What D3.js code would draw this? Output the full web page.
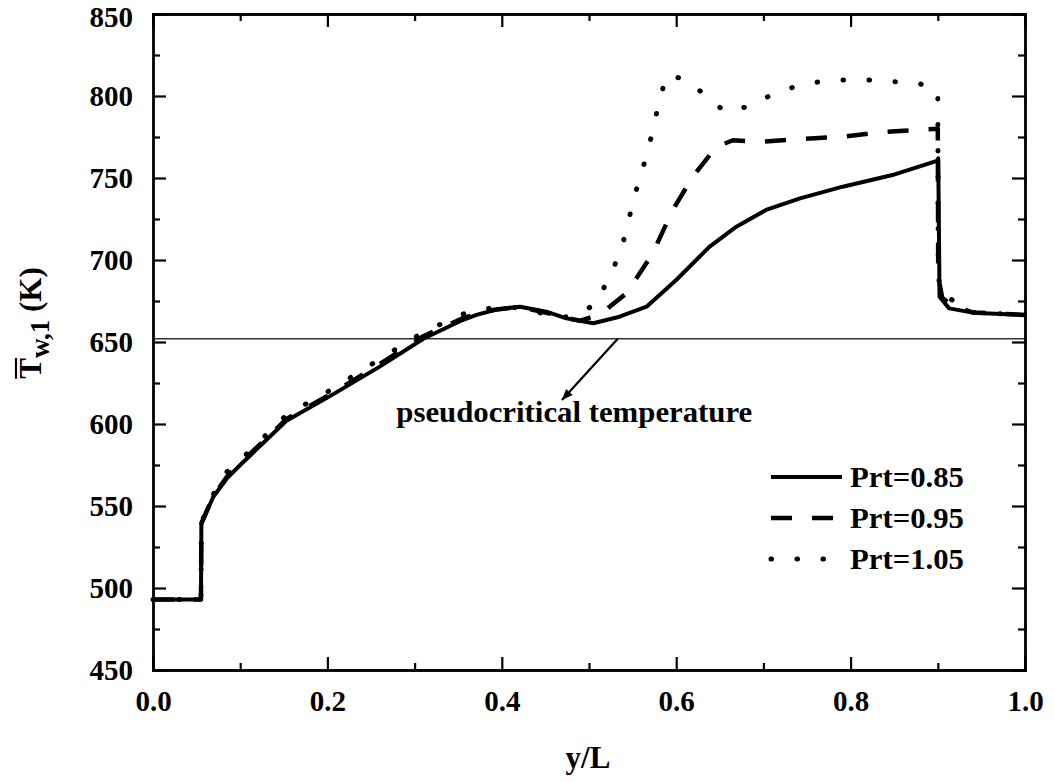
<!DOCTYPE html>
<html><head><meta charset="utf-8">
<script src="https://cdn.jsdelivr.net/npm/d3@7"></script>
<style>
html,body{margin:0;padding:0;background:#fff;}
svg{display:block;}
text{font-family:"Liberation Serif","Times New Roman",serif;font-weight:bold;fill:#000;}
</style></head>
<body>
<svg id="chart" width="1054" height="782"></svg>
<script>
// ---- data ----
const xTicks = [0.0, 0.2, 0.4, 0.6, 0.8, 1.0];
const yTicks = [450, 500, 550, 600, 650, 700, 750, 800, 850];
const seriesNames = ["Prt=0.85", "Prt=0.95", "Prt=1.05"];

const x085 = [0, 0.055, 0.0555, 0.069, 0.085, 0.1, 0.153, 0.203, 0.26, 0.31, 0.355, 0.371, 0.395, 0.421, 0.451, 0.474, 0.505, 0.535, 0.566, 0.60, 0.638, 0.669, 0.703, 0.742, 0.791, 0.848, 0.899, 0.9005, 0.902, 0.913, 0.94, 1.0];
const t085 = [493, 493, 539, 555.5, 567, 575, 602, 617, 635, 652, 663.4, 666.5, 670, 671.5, 668.5, 664.4, 661.4, 665.4, 671.5, 687.8, 708, 720.3, 730.5, 737.6, 744.7, 751.8, 760.5, 762, 677.6, 670.5, 667.9, 666.5];

const x095 = [0, 0.055, 0.0555, 0.069, 0.085, 0.1, 0.153, 0.203, 0.26, 0.31, 0.355, 0.39, 0.42, 0.45, 0.475, 0.49, 0.505, 0.52, 0.543, 0.573, 0.596, 0.619, 0.646, 0.665, 0.696, 0.745, 0.791, 0.841, 0.887, 0.9, 0.9005, 0.905, 0.917, 0.94, 1.0];
const t095 = [493, 493, 539.5, 556, 568, 576, 603, 618, 636.5, 653.5, 664.5, 669.5, 671.5, 668, 664.5, 663, 665.5, 670, 679.7, 704, 730.5, 750.8, 769, 773, 772, 773.8, 775.2, 778.2, 779.7, 780, 690, 677, 672, 668, 666.5];

const x105 = [0, 0.055, 0.0555, 0.069, 0.085, 0.1, 0.153, 0.203, 0.26, 0.31, 0.355, 0.39, 0.42, 0.45, 0.47, 0.486, 0.509, 0.522, 0.535, 0.543, 0.550, 0.558, 0.567, 0.574, 0.581, 0.589, 0.610, 0.631, 0.656, 0.682, 0.709, 0.736, 0.764, 0.793, 0.822, 0.850, 0.877, 0.9, 0.9005, 0.905, 0.917, 0.94, 1.0];
const t105 = [493, 493, 540, 557, 571, 578, 605.5, 620.5, 639.5, 656, 667, 671, 671, 667, 665, 666.5, 673.6, 688.8, 703, 718.3, 734.6, 749.8, 765, 781.3, 797.6, 812.8, 810.2, 801.6, 790.4, 793.5, 800.6, 805.7, 808.7, 809.8, 809.8, 808.7, 808, 803, 690, 678, 675.6, 668, 666.5];

const pseudocriticalT = 652;
const annotationText = "pseudocritical temperature";

// ---- layout ----
const svg = d3.select("#chart");
const L = 153, R = 1025, T = 14, B = 670;
const x = d3.scaleLinear().domain([0, 1]).range([L, R]);
const y = d3.scaleLinear().domain([450, 850]).range([B, T]);

const series = [
  {name: seriesNames[0], xs: x085, ts: t085, dash: null, cap: "butt", w: 4},
  {name: seriesNames[1], xs: x095, ts: t095, dash: "21,20", cap: "butt", w: 4.5},
  {name: seriesNames[2], xs: x105, ts: t105, dash: "0.5,25.5", cap: "round", w: 5}
];

// pseudocritical line
svg.append("line")
  .attr("x1", x(0)).attr("x2", x(1))
  .attr("y1", y(pseudocriticalT)).attr("y2", y(pseudocriticalT))
  .attr("stroke", "#333").attr("stroke-width", 1.6);

// series lines
const line = d3.line().x(d => x(d[0])).y(d => y(d[1]));
series.slice().reverse().forEach(s => {
  const pts = s.xs.map((v, i) => [v, s.ts[i]]);
  svg.append("path")
    .attr("d", line(pts))
    .attr("fill", "none")
    .attr("stroke", "#000")
    .attr("stroke-width", s.w)
    .attr("stroke-linejoin", "round")
    .attr("stroke-linecap", s.cap)
    .attr("stroke-dasharray", s.dash);
});

// axes frame
const axisB = d3.axisBottom(x).tickValues(xTicks).tickSize(-13).tickPadding(20).tickFormat(d3.format(".1f"));
const axisL = d3.axisLeft(y).tickValues(yTicks).tickSize(-13).tickPadding(20).tickFormat(d3.format("d"));
const axisT = d3.axisTop(x).tickValues(xTicks).tickSize(-13).tickFormat("");
const axisR = d3.axisRight(y).tickValues(yTicks).tickSize(-13).tickFormat("");
const minorX = d3.range(0.1, 1, 0.2);
const minorY = d3.range(475, 850, 50);

function styleAxis(g) {
  g.select(".domain").attr("stroke", "#000").attr("stroke-width", 2.4);
  g.selectAll(".tick line").attr("stroke", "#000").attr("stroke-width", 2.2);
  g.selectAll(".tick text").style("font-size", "29px").attr("fill", "#000");
}
const gB = svg.append("g").attr("transform", `translate(0,${B})`).call(axisB).call(styleAxis);
gB.selectAll(".tick text").attr("dy", "0.71em");
svg.append("g").attr("transform", `translate(0,${B})`).call(d3.axisBottom(x).tickValues(minorX).tickSize(-7).tickFormat("")).call(styleAxis);
const gL = svg.append("g").attr("transform", `translate(${L},0)`).call(axisL).call(styleAxis);
gL.selectAll(".tick text").attr("dy", d => d === 850 ? "0.42em" : "0.34em");
svg.append("g").attr("transform", `translate(${L},0)`).call(d3.axisLeft(y).tickValues(minorY).tickSize(-7).tickFormat("")).call(styleAxis);
svg.append("g").attr("transform", `translate(0,${T})`).call(axisT).call(styleAxis);
svg.append("g").attr("transform", `translate(0,${T})`).call(d3.axisTop(x).tickValues(minorX).tickSize(-7).tickFormat("")).call(styleAxis);
svg.append("g").attr("transform", `translate(${R},0)`).call(axisR).call(styleAxis);
svg.append("g").attr("transform", `translate(${R},0)`).call(d3.axisRight(y).tickValues(minorY).tickSize(-7).tickFormat("")).call(styleAxis);
svg.selectAll(".domain").attr("stroke-linecap", "square");

// x title
svg.append("text").attr("x", 588).attr("y", 768).attr("text-anchor", "middle")
  .style("font-size", "31px").text("y/L");

// y title
const yt = svg.append("g").attr("transform", "translate(41,323) rotate(-90)");
const ytxt = yt.append("text").attr("text-anchor", "middle").style("font-size", "31px");
ytxt.append("tspan").text("T");
ytxt.append("tspan").attr("dy", 8).style("font-size", "27px").text("w,1");
ytxt.append("tspan").attr("dy", -8).text(" (K)");
(function(){
  const node = ytxt.node();
  const s = node.getStartPositionOfChar(0);
  const w = node.getSubStringLength(0, 1);
  yt.append("line").attr("x1", s.x).attr("x2", s.x + w)
    .attr("y1", s.y - 25).attr("y2", s.y - 25)
    .attr("stroke", "#000").attr("stroke-width", 2.2);
})();

// annotation arrow
const defs = svg.append("defs");
defs.append("marker").attr("id", "arrow").attr("viewBox", "0 0 10 10")
  .attr("refX", 10).attr("refY", 5).attr("markerWidth", 6).attr("markerHeight", 5)
  .attr("orient", "auto").attr("markerUnits", "strokeWidth")
  .append("path").attr("d", "M0,1 L10,5 L0,9 Z").attr("fill", "#000");
svg.append("line")
  .attr("x1", x(0.533)).attr("y1", y(pseudocriticalT))
  .attr("x2", x(0.469)).attr("y2", y(614.6))
  .attr("stroke", "#000").attr("stroke-width", 2.2).attr("marker-end", "url(#arrow)");
svg.append("text").attr("x", x(0.279)).attr("y", y(601.5))
  .attr("textLength", 356).attr("lengthAdjust", "spacingAndGlyphs")
  .style("font-size", "30px").text(annotationText);

// legend
const legend = svg.append("g");
series.forEach((s, i) => {
  const ly = 477 + i * 41;
  legend.append("line").attr("x1", 771).attr("x2", 842).attr("y1", ly).attr("y2", ly)
    .attr("stroke", "#000").attr("stroke-width", s.w).attr("stroke-linecap", s.cap)
    .attr("stroke-dasharray", s.dash);
  legend.append("text").attr("x", 850).attr("y", ly + 10)
    .attr("textLength", 114).attr("lengthAdjust", "spacingAndGlyphs")
    .style("font-size", "30px").text(s.name);
});
</script>
</body></html>
